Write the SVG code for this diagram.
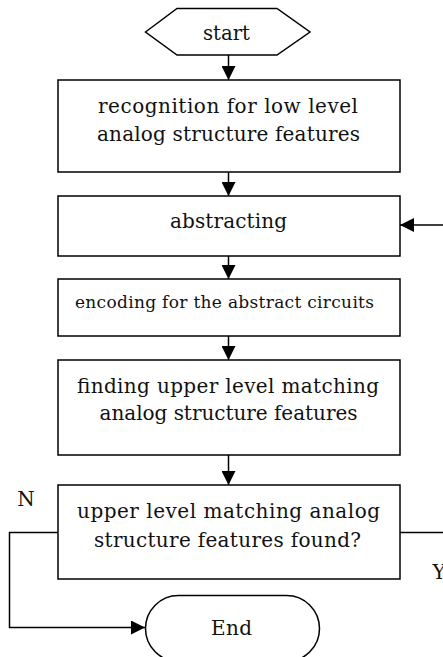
<svg xmlns="http://www.w3.org/2000/svg" width="443" height="657" viewBox="0 0 443 657">
<defs>
<marker id="ah" viewBox="0 0 14 14" refX="14" refY="7" markerWidth="14" markerHeight="14" markerUnits="userSpaceOnUse" orient="auto">
<path d="M0,0 L14,7 L0,14 Z" fill="#000"/>
</marker>
<style>
.s{fill:#fff;stroke:#000;stroke-width:1.5}
.t{font-family:"DejaVu Serif","Liberation Serif",serif;font-size:20px;fill:#111;text-anchor:middle}
.c{fill:none;stroke:#000;stroke-width:1.5}
</style>
</defs>
<rect width="443" height="657" fill="#fff"/>
<g id="connectors">
<line class="c" x1="228.5" y1="55" x2="228.5" y2="80" marker-end="url(#ah)"/>
<line class="c" x1="228.5" y1="172" x2="228.5" y2="196" marker-end="url(#ah)"/>
<line class="c" x1="228.5" y1="256" x2="228.5" y2="279" marker-end="url(#ah)"/>
<line class="c" x1="228.5" y1="336" x2="228.5" y2="360" marker-end="url(#ah)"/>
<line class="c" x1="228.5" y1="455" x2="228.5" y2="485" marker-end="url(#ah)"/>
<line class="c" x1="443" y1="225" x2="400" y2="225" marker-end="url(#ah)"/>
<polyline class="c" points="58,532.5 9.5,532.5 9.5,627.5 145,627.5" marker-end="url(#ah)"/>
<line class="c" x1="400" y1="532.5" x2="443" y2="532.5"/>
<text class="t" x="26" y="506">N</text>
<text class="t" x="439" y="579">Y</text>
</g>
<g id="start">
<polygon class="s" points="145.5,32 177,8.5 277,8.5 310,32 277,55 177,55"/>
<text class="t" x="226.5" y="40" textLength="47" lengthAdjust="spacingAndGlyphs">start</text>
</g>
<g id="recognition">
<rect class="s" x="58" y="80" width="342" height="92"/>
<text class="t" x="228" y="113" textLength="260">recognition for low level</text>
<text class="t" x="228.5" y="141" textLength="263">analog structure features</text>
</g>
<g id="abstracting">
<rect class="s" x="58" y="196" width="342" height="60"/>
<text class="t" x="228.5" y="228" textLength="117">abstracting</text>
</g>
<g id="encoding">
<rect class="s" x="58" y="279" width="342" height="57"/>
<text class="t" x="224.5" y="308" style="font-size:17px" textLength="299">encoding for the abstract circuits</text>
</g>
<g id="finding">
<rect class="s" x="58" y="360" width="342" height="95"/>
<text class="t" x="228" y="393" textLength="302">finding upper level matching</text>
<text class="t" x="228.5" y="420" textLength="258">analog structure features</text>
</g>
<g id="decision">
<rect class="s" x="58" y="485" width="342" height="94"/>
<text class="t" x="228.5" y="518" textLength="303">upper level matching analog</text>
<text class="t" x="227.5" y="547" textLength="267">structure features found?</text>
</g>
<g id="end">
<rect class="s" x="145.5" y="595.5" width="174" height="66" rx="33" ry="33"/>
<text class="t" x="231.5" y="635" textLength="41">End</text>
</g>
</svg>
